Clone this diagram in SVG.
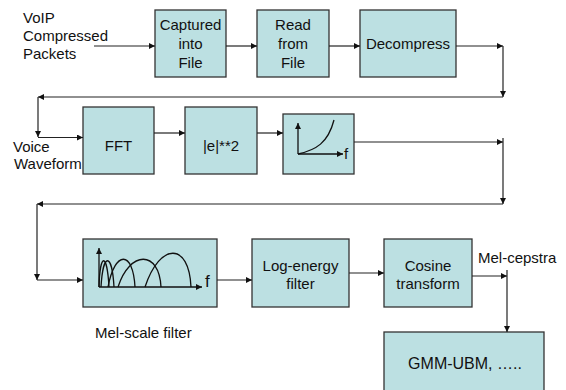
<svg xmlns="http://www.w3.org/2000/svg" width="566" height="390" viewBox="0 0 566 390">
<defs>
<marker id="ah" markerUnits="userSpaceOnUse" markerWidth="7" markerHeight="7" refX="6" refY="3" orient="auto">
<path d="M0,0 L6,3 L0,6 Z" fill="#111"/>
</marker>
<style>
.box{fill:#BCE0E2;stroke:#333;stroke-width:1.3}
.t{font-family:"Liberation Sans",Arial,sans-serif;font-size:15px;fill:#111}
.c{text-anchor:middle}
.ln{fill:none;stroke:#222;stroke-width:1.2}
.ar{fill:none;stroke:#222;stroke-width:1.2;marker-end:url(#ah)}
.plot{fill:none;stroke:#111;stroke-width:1.3}
</style>
</defs>
<rect width="566" height="390" fill="#fff"/>

<g id="label-voip">
<text class="t" x="23" y="23">VoIP</text>
<text class="t" x="23" y="41">Compressed</text>
<text class="t" x="23" y="59">Packets</text>
</g>
<g id="captured">
<rect class="box" x="155" y="10" width="71" height="67"/>
<text class="t c" x="190.5" y="30">Captured</text>
<text class="t c" x="190.5" y="49">into</text>
<text class="t c" x="190.5" y="68">File</text>
</g>
<g id="read">
<rect class="box" x="257" y="10" width="72" height="67"/>
<text class="t c" x="293" y="30">Read</text>
<text class="t c" x="293" y="49">from</text>
<text class="t c" x="293" y="68">File</text>
</g>
<g id="decompress">
<rect class="box" x="360" y="10" width="96" height="67"/>
<text class="t c" x="408" y="49">Decompress</text>
</g>

<g id="label-voice">
<text class="t" x="13" y="152">Voice</text>
<text class="t" x="14" y="169">Waveform</text>
</g>
<g id="fft">
<rect class="box" x="83" y="107" width="71" height="67"/>
<text class="t c" x="118.5" y="151">FFT</text>
</g>
<g id="power">
<rect class="box" x="185" y="107" width="72" height="67"/>
<text class="t c" x="221" y="151">|e|**2</text>
</g>
<g id="spectrum">
<rect class="box" x="283" y="114" width="71" height="60"/>
<path class="plot" d="M298,154 V123" marker-end="url(#ah)"/>
<path class="plot" d="M298,154 H343" marker-end="url(#ah)"/>
<path class="plot" d="M298,154 C316,150 328,143 334,120"/>
<text class="t" x="344" y="159">f</text>
</g>

<g id="melfilter">
<rect class="box" x="83" y="239" width="134" height="68"/>
<path class="plot" d="M99,287 V248" marker-end="url(#ah)"/>
<path class="plot" d="M99,287 H202" marker-end="url(#ah)"/>
<path class="plot" d="M99,287 C100,252 107,252 109,287"/>
<path class="plot" d="M101,287 C103,252 112,252 114,287"/>
<path class="plot" d="M108,287 C115,250 133,250 135,287"/>
<path class="plot" d="M118,287 C130,250 159,250 161,287"/>
<path class="plot" d="M145,287 C160,242 189,242 191,287"/>
<text class="t" x="205" y="287" style="font-size:17px">f</text>
</g>
<g id="label-mel">
<text class="t" x="95" y="338">Mel-scale filter</text>
</g>
<g id="logenergy">
<rect class="box" x="252" y="239" width="97" height="68"/>
<text class="t c" x="300.5" y="271">Log-energy</text>
<text class="t c" x="300.5" y="289">filter</text>
</g>
<g id="cosine">
<rect class="box" x="384" y="239" width="88" height="68"/>
<text class="t c" x="428" y="271">Cosine</text>
<text class="t c" x="428" y="289">transform</text>
</g>
<g id="label-melcepstra">
<text class="t" x="478" y="263">Mel-cepstra</text>
</g>
<g id="gmm">
<rect class="box" x="384" y="332" width="160" height="62"/>
<text class="t c" x="465" y="369" style="font-size:16px">GMM-UBM, …..</text>
</g>

<g id="connectors">
<path class="ar" d="M94,46 H155"/>
<path class="ar" d="M226,46 H257"/>
<path class="ar" d="M329,46 H360"/>
<path class="ar" d="M456,46 H503"/>
<path class="ar" d="M503,46 V97"/>
<path class="ar" d="M503,97 H38"/>
<path class="ar" d="M38,97 V137"/>
<path class="ar" d="M38,137.5 H83"/>
<path class="ar" d="M154,133 H185"/>
<path class="ar" d="M257,133 H283"/>
<path class="ar" d="M354,142 H503"/>
<path class="ar" d="M503,138 V204"/>
<path class="ar" d="M503,204 H37"/>
<path class="ar" d="M37,204 V280"/>
<path class="ar" d="M37,280 H83"/>
<path class="ar" d="M217,280 H252"/>
<path class="ar" d="M349,273 H384"/>
<path class="ar" d="M472,276 H507"/>
<path class="ar" d="M507,270 V332"/>
</g>
</svg>
